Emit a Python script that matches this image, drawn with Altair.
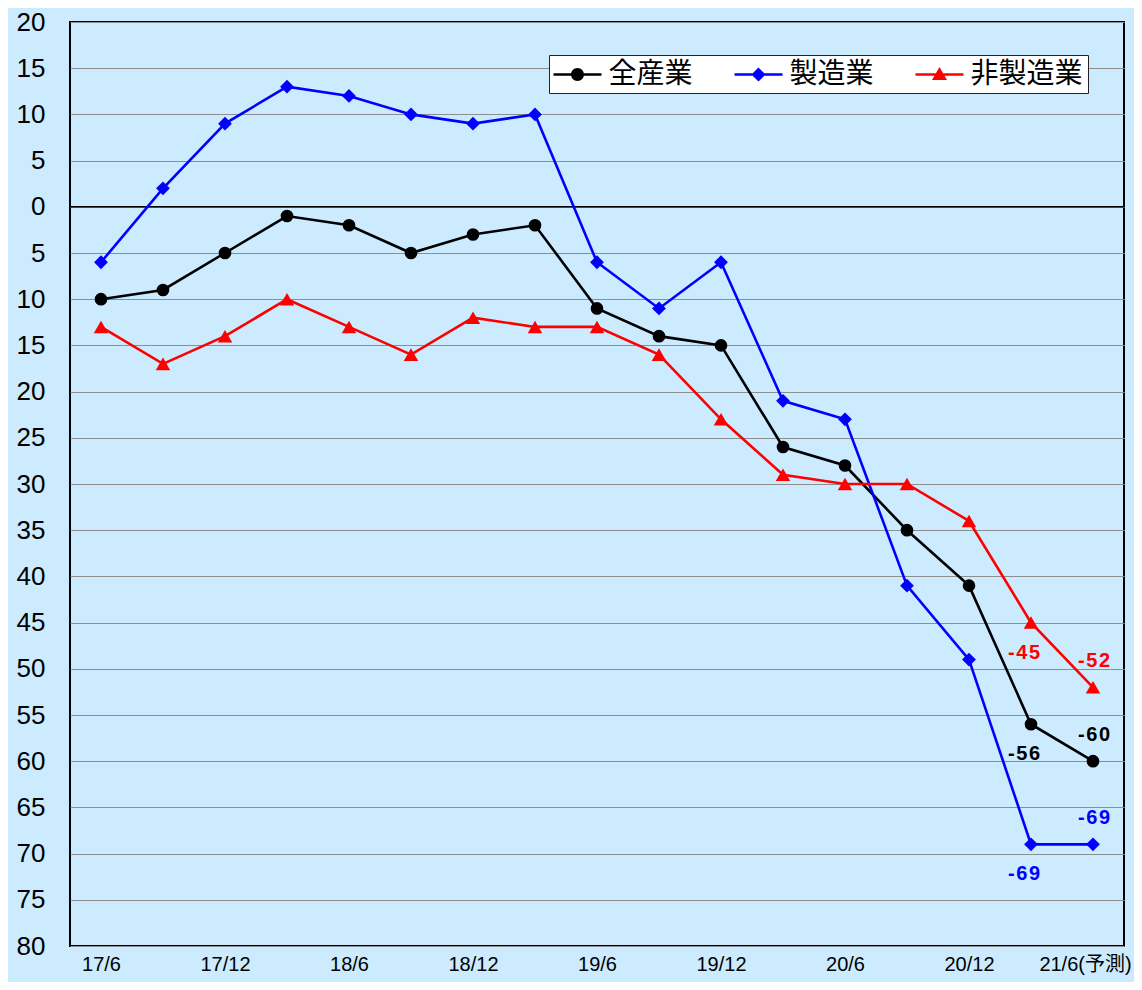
import altair as alt
import pandas as pd

# ---- data ----
periods = ["17/6", "17/9", "17/12", "18/3", "18/6", "18/9", "18/12", "19/3", "19/6",
           "19/9", "19/12", "20/3", "20/6", "20/9", "20/12", "21/3", "21/6"]
tick_periods = periods[::2]
forecast_suffix = "(予測)"
series_names = ["全産業", "製造業", "非製造業"]
all_industries = [-10, -9, -5, -1, -2, -5, -3, -2, -11, -14, -15, -26, -28, -35, -41, -56, -60]
manufacturing = [-6, 2, 9, 13, 12, 10, 9, 10, -6, -11, -6, -21, -23, -41, -49, -69, -69]
non_manufacturing = [-13, -17, -14, -10, -13, -16, -12, -13, -13, -16, -23, -29, -30, -30, -34, -45, -52]
y_ticks = list(range(-80, 25, 5))
annotated_idx = {15: "below", 16: "above"}

series_values = dict(zip(series_names, [all_industries, manufacturing, non_manufacturing]))

rows = []
for s in series_names:
    for p, v in zip(periods, series_values[s]):
        rows.append({"period": p, "series": s, "value": v})
df = pd.DataFrame(rows)

ann_rows = []
for s in series_names:
    for i, pos in annotated_idx.items():
        v = series_values[s][i]
        ann_rows.append({"period": periods[i], "series": s, "value": v,
                         "label": "\u200a".join(str(v)), "pos": pos})
ann_df = pd.DataFrame(ann_rows)

# ---- styles ----
BG = "#CCEBFF"
colors = ["#000000", "#0000FF", "#FF0000"]
marker_shapes = ["circle", "diamond", "triangle-up"]
marker_sizes = [160, 190, 210]
FONT = "Liberation Sans, Arial, Noto Sans CJK JP"
CJK = "Noto Sans CJK JP, Noto Sans CJK SC, sans-serif"
LW = 2.6

bar = "M-1.6,-0.085L1.6,-0.085L1.6,0.085L-1.6,0.085Z"
circ = (bar + "M-0.433,0C-0.433,-0.239,-0.239,-0.433,0,-0.433C0.239,-0.433,0.433,-0.239,0.433,0"
        "C0.433,0.239,0.239,0.433,0,0.433C-0.239,0.433,-0.433,0.239,-0.433,0Z")
diam = bar + "M-0.47,0L0,-0.47L0.47,0L0,0.47Z"
tri = bar + "M0,-0.5L0.5,0.37L-0.5,0.37Z"
legend_paths = [circ, diam, tri]

legend = alt.Legend(
    title=None,
    orient="none",
    legendX=479,
    legendY=33,
    direction="horizontal",
    fillColor="#FFFFFF",
    strokeColor="#222222",
    padding=4.5,
    columnPadding=41,
    labelFont=CJK,
    labelFontSize=28,
    labelColor="#000000",
    labelOffset=16,
    labelLimit=0,
    symbolSize=900,
    symbolOffset=9,
    symbolStrokeWidth=0,
    symbolOpacity=1,
)

color_scale = alt.Scale(domain=series_names, range=colors)
x_enc = alt.X(
    "period:O",
    sort=periods,
    scale=alt.Scale(type="point", domain=periods, padding=0.5),
    axis=alt.Axis(
        values=tick_periods,
        labelExpr=f"datum.value == '{periods[-1]}' ? datum.value + '{forecast_suffix}' : datum.value",
        labelAngle=0,
        labelFont=FONT,
        labelFontSize=20,
        labelColor="#000000",
        labelPadding=8,
        labelOffset={"condition": {"test": f"datum.value == '{periods[-1]}'", "value": -8}, "value": 0},
        labelBound=False,
        ticks=False,
        tickSize=0,
        domain=False,
        grid=False,
        title=None,
    ),
)
y_enc = alt.Y(
    "value:Q",
    scale=alt.Scale(domain=[-80, 20], nice=False, zero=False),
    axis=alt.Axis(
        values=y_ticks,
        labelExpr="abs(datum.value)",
        labelFont=FONT,
        labelFontSize=26,
        labelColor="#000000",
        labelPadding=25,
        ticks=False,
        tickSize=0,
        domain=False,
        grid=True,
        gridColor="#8E8E8E",
        gridWidth=1,
        title=None,
    ),
)

base = alt.Chart(df).encode(x=x_enc, y=y_enc)

# invisible layer that only feeds the legend (line + marker symbols); first so its legend settings win
legend_layer = base.mark_point(filled=True, opacity=0).encode(
    color=alt.Color("series:N", scale=color_scale, sort=series_names, legend=legend),
    shape=alt.Shape("series:N", scale=alt.Scale(domain=series_names, range=legend_paths),
                    sort=series_names, legend=legend),
)

zero_rule = alt.Chart(pd.DataFrame({"value": [0]})).mark_rule(color="#000000", strokeWidth=1.5).encode(
    y=alt.Y("value:Q")
)

lines = base.mark_line(strokeWidth=LW).encode(
    color=alt.Color("series:N", scale=color_scale, sort=series_names)
)

marker_layers = []
for name, shp, sz in zip(series_names, marker_shapes, marker_sizes):
    marker_layers.append(
        base.transform_filter(alt.datum.series == name)
        .mark_point(filled=True, opacity=1, shape=shp, size=sz)
        .encode(color=alt.Color("series:N", scale=color_scale, sort=series_names))
    )

ann_base = alt.Chart(ann_df).encode(
    x=alt.X("period:O", sort=periods),
    y=alt.Y("value:Q"),
    text="label:N",
    color=alt.Color("series:N", scale=color_scale, sort=series_names),
)
ann_below = ann_base.transform_filter("datum.pos == 'below'").mark_text(
    dx=-7, dy=30, font=FONT, fontSize=20, fontWeight="bold", baseline="middle"
)
ann_above = ann_base.transform_filter("datum.pos == 'above'").mark_text(
    dx=1, dy=-26, font=FONT, fontSize=20, fontWeight="bold", baseline="middle"
)

chart = (
    alt.layer(legend_layer, zero_rule, lines, *marker_layers, ann_below, ann_above)
    .properties(
        width=1054,
        height=924,
        background=BG,
        autosize=alt.AutoSizeParams(type="none"),
        padding={"left": 62, "top": 14, "right": 10, "bottom": 36},
    )
    .configure_view(stroke="#000000", strokeWidth=2, fill=BG)
)

chart.save("out.html", embed_options={"renderer": "svg", "actions": False})
